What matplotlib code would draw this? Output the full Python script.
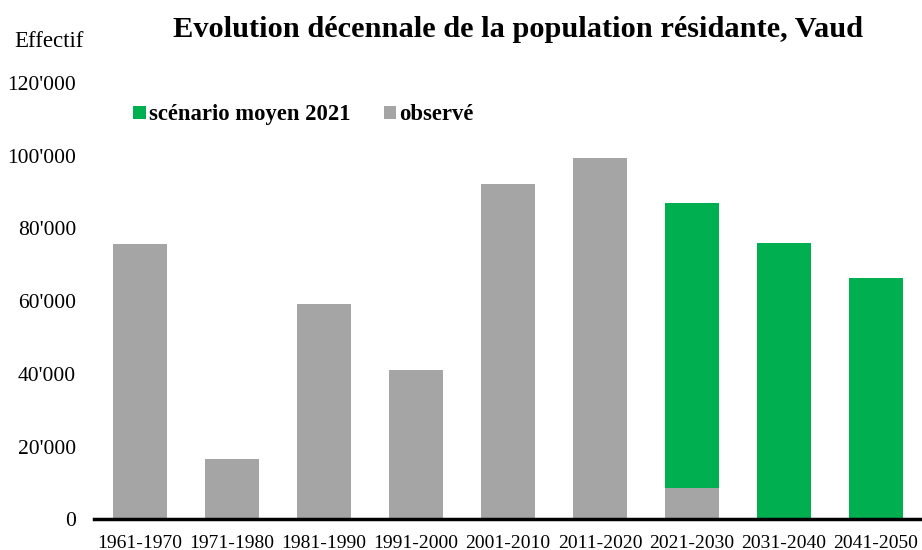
import matplotlib
matplotlib.use("Agg")
import matplotlib.pyplot as plt
from matplotlib.patches import Patch
from matplotlib.ticker import FuncFormatter
import numpy as np

categories = ["1961-1970", "1971-1980", "1981-1990", "1991-2000", "2001-2010",
              "2011-2020", "2021-2030", "2031-2040", "2041-2050"]
observed = [75700, 16700, 59200, 41100, 92200, 99400, 8600, 0, 0]
scenario_total = [0, 0, 0, 0, 0, 0, 87000, 76000, 66500]
y_ticks = [0, 20000, 40000, 60000, 80000, 100000, 120000]

GRAY = "#A5A5A5"
GREEN = "#00B050"
SERIF = ["Liberation Serif", "DejaVu Serif"]

fig = plt.figure(figsize=(9.22, 5.5), dpi=100)
ax = fig.add_axes([0.102, 0.0558, 0.898, 0.7932])

x = np.arange(len(categories))
obs = np.array(observed)
scen = np.array(scenario_total)
green_h = np.where(scen > 0, scen - obs, 0)

ax.bar(x, obs, width=0.59, color=GRAY, zorder=2)
ax.bar(x, green_h, width=0.59, bottom=obs, color=GREEN, zorder=2)

ax.set_xlim(-0.5, len(categories) - 0.5)
ax.set_ylim(0, 120000)
ax.set_yticks(y_ticks)
ax.yaxis.set_major_formatter(FuncFormatter(lambda v, p: f"{int(v):,}".replace(",", "'")))
ax.set_xticks(x)
ax.set_xticklabels(categories)

for s in ["top", "right", "left"]:
    ax.spines[s].set_visible(False)
ax.spines["bottom"].set_linewidth(2.5)
ax.spines["bottom"].set_color("black")
ax.tick_params(axis="both", length=0)
ax.tick_params(axis="y", pad=13)
ax.tick_params(axis="x", pad=11)
for lab in ax.get_yticklabels():
    lab.set_fontfamily(SERIF)
    lab.set_fontsize(15.5)
    lab.set_color("black")
for lab in ax.get_xticklabels():
    lab.set_fontfamily(SERIF)
    lab.set_fontsize(14)
    lab.set_color("black")

fig.text(0.562, 0.947, "Evolution décennale de la population résidante, Vaud",
         ha="center", va="center", fontsize=21.9, fontweight="bold", family=SERIF)
fig.text(0.015, 0.925, "Effectif", ha="left", va="center", fontsize=16.5, family=SERIF)

handles = [Patch(facecolor=GREEN, label="scénario moyen 2021"),
           Patch(facecolor=GRAY, label="observé")]
fig.legend(handles=handles, loc="center left", bbox_to_anchor=(0.1226, 0.791),
           ncol=2, frameon=False, handlelength=0.55, handleheight=0.55,
           handletextpad=0.12, columnspacing=1.5,
           prop={"family": SERIF, "weight": "bold", "size": 16.3})

fig.savefig("out.png", dpi=100)
